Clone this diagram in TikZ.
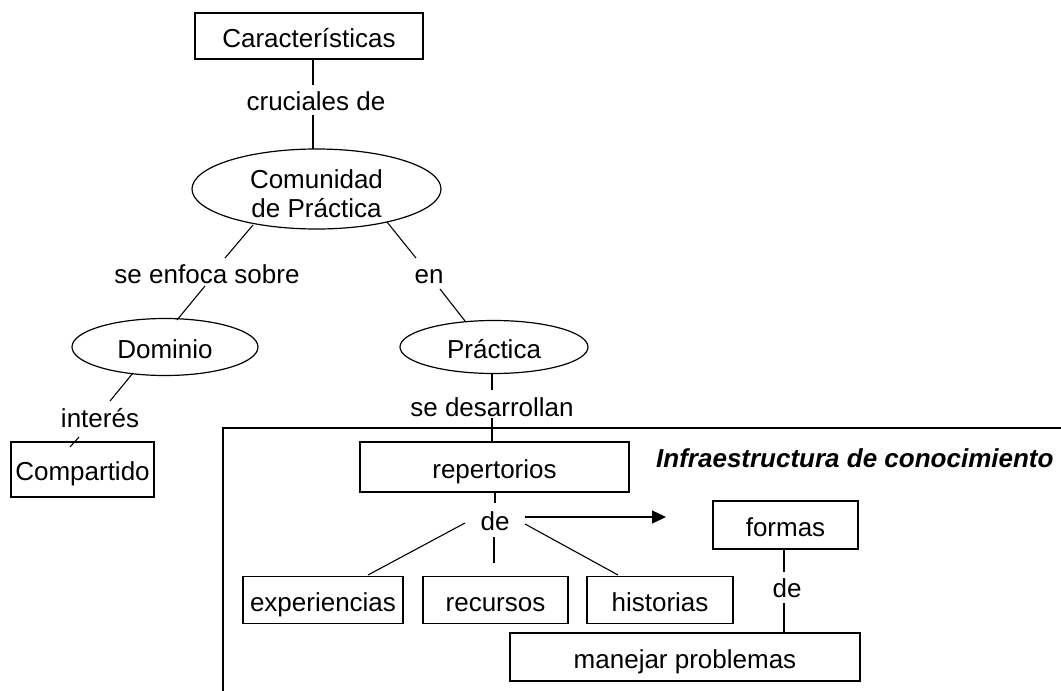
\documentclass[tikz,border=0pt]{standalone}
\usepackage{fontspec}
\setmainfont{Liberation Sans}
\usetikzlibrary{shapes.geometric,calc,arrows.meta}
\begin{document}
\begin{tikzpicture}[x=1pt,y=-1pt,
  every node/.style={font=\fontsize{26}{29}\selectfont, inner sep=0pt},
  txt/.style={text height=22pt, text depth=0pt},
  box/.style={draw, line width=1.3pt, txt},
  oval/.style={ellipse, draw, line width=1.2pt},
  lbl/.style={txt},
  conn/.style={line width=1.1pt},
  arr/.style={line width=1.4pt, -{Triangle[length=14pt,width=13pt]}}]
\useasboundingbox (0,0) rectangle (1061,691);
\fill[white] (0,0) rectangle (1061,691);

% frame of the knowledge infrastructure
\draw[line width=1.3pt] (223,691) -- (223,428) -- (1061,428);
\node[lbl, anchor=west, font=\fontsize{26}{29}\selectfont\bfseries\itshape] (inf) at (656,456) {Infraestructura de conocimiento};

% nodes
\node[box, minimum width=228pt, minimum height=46pt] (car) at (309,36) {Características};
\node[lbl] (cru) at (316,99) {cruciales de};
\node[oval, minimum width=249pt, minimum height=80pt,
      label={[align=center, yshift=-5pt]center:Comunidad\\de Práctica}] (com) at (316.5,189) {};
\node[lbl] (enf) at (207,272) {se enfoca sobre};
\node[lbl] (en) at (429,272) {en};
\node[oval, txt, minimum width=186pt, minimum height=57pt] (dom) at (165,347) {Dominio};
\node[oval, txt, minimum width=188pt, minimum height=53pt] (pra) at (494,347) {Práctica};
\node[lbl] (int) at (100,416) {interés};
\node[box, minimum width=143pt, minimum height=55pt] (comp) at (82.5,469.5) {Compartido};
\node[lbl] (sed) at (492,405) {se desarrollan};
\node[box, minimum width=269pt, minimum height=50pt] (rep) at (494.5,467) {repertorios};
\node[lbl] (de1) at (495,519) {de};
\node[box, minimum width=160pt, minimum height=47pt] (exp) at (323,600) {experiencias};
\node[box, minimum width=145pt, minimum height=47pt] (rec) at (495.5,600) {recursos};
\node[box, minimum width=146pt, minimum height=47pt] (his) at (660,600) {historias};
\node[box, minimum width=145pt, minimum height=48pt] (for) at (785.5,525) {formas};
\node[lbl] (de2) at (787,586) {de};
\node[box, minimum width=350pt, minimum height=48pt] (man) at (685,657) {manejar problemas};

% connectors
\draw[conn] ($(car)+(4,23)$) -- ($(cru)+(-3,-14)$);
\draw[conn] ($(cru)+(-3,16)$) -- ($(com)+(-3.5,-40)$);
\draw[conn] ($(com)+(-63.5,36)$) -- ($(enf)+(18,-14)$);
\draw[conn] ($(enf)+(-2,14)$) -- ($(dom)+(12,-27)$);
\draw[conn] ($(com)+(70.5,33)$) -- ($(en)+(-13,-14)$);
\draw[conn] ($(en)+(11,17)$) -- ($(pra)+(-29,-26)$);
\draw[conn] ($(dom)+(-32,26)$) -- ($(int)+(10,-15)$);
\draw[conn] ($(int)+(-21,21)$) -- ($(comp)+(-12.5,-22.5)$);
\draw[conn] ($(pra)+(-2,27)$) -- ($(sed)+(0,-15)$);
\draw[conn] ($(sed)+(0,13)$) -- ($(rep)+(-2.5,-25)$);
\draw[conn] ($(rep)+(0.5,25)$) -- ($(de1)+(0,-16)$);
\draw[arr] ($(de1)+(30,-2)$) -- ($(for)+(-119.5,-8)$);
\draw[conn] ($(de1)+(-30,4)$) -- ($(exp)+(45,-25)$);
\draw[conn] ($(de1)+(-1,18)$) -- ($(rec)+(-1.5,-37)$);
\draw[conn] ($(de1)+(30,5)$) -- ($(his)+(-42,-25)$);
\draw[conn] ($(for)+(-1.5,24)$) -- ($(de2)+(-3,-14)$);
\draw[conn] ($(de2)+(-3,17)$) -- ($(man)+(99,-24)$);
\end{tikzpicture}
\end{document}
